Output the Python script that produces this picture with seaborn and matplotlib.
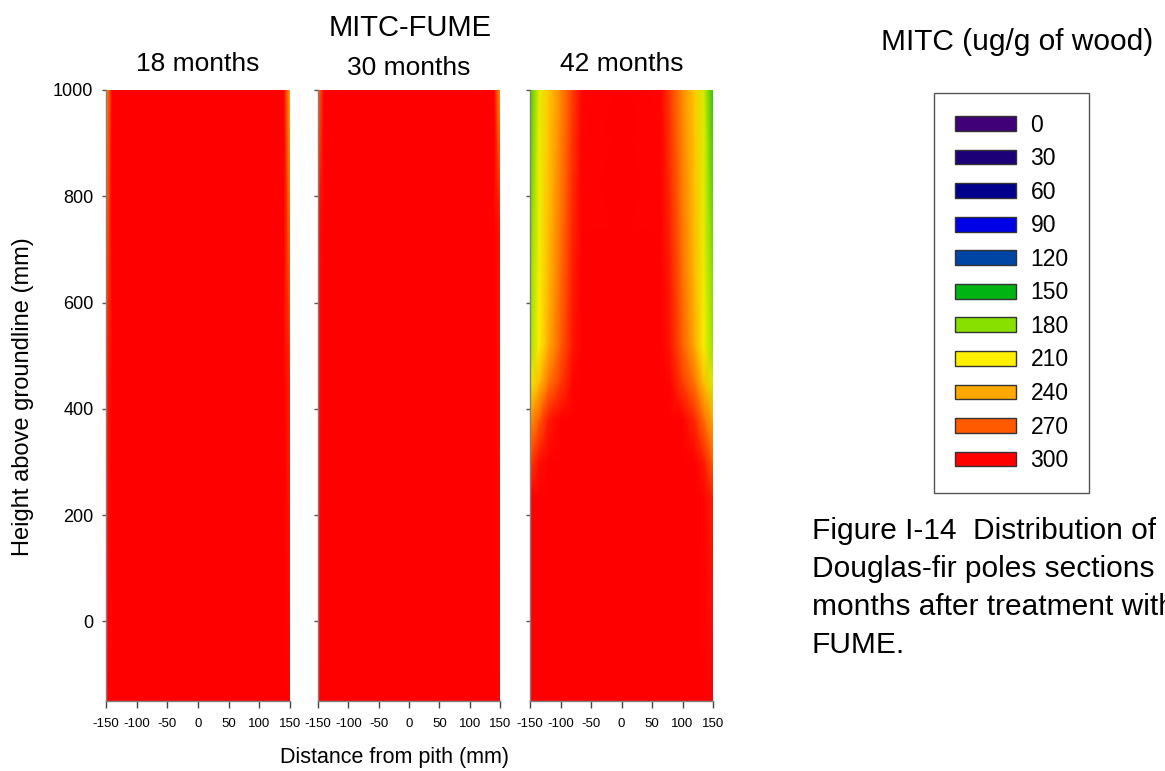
import numpy as np
import matplotlib
matplotlib.use("Agg")
import matplotlib.pyplot as plt
from matplotlib.colors import LinearSegmentedColormap, Normalize
from matplotlib.patches import Patch
import seaborn as sns

# legend levels / colours (ug/g of wood)
levels = [0, 30, 60, 90, 120, 150, 180, 210, 240, 270, 300]
level_colors = ["#400078", "#1c0078", "#00008c", "#0000e6", "#0044a4", "#00b414",
                "#88e000", "#fff000", "#ffa800", "#ff5a00", "#ff0000"]

# 18 months
dist_18 = [-150, -140, 0, 140, 150]
height_18 = [-150, 450, 1000]
mitc_18 = [
    [300, 300, 300, 300, 300],
    [288, 300, 300, 300, 288],
    [242, 300, 300, 300, 235],
]

# 30 months
dist_30 = [-150, -140, 0, 140, 150]
height_30 = [-150, 750, 1000]
mitc_30 = [
    [300, 300, 300, 300, 300],
    [295, 300, 300, 300, 292],
    [262, 300, 300, 300, 245],
]

# 42 months
dist_42 = [-150, -135, -120, -100, -80, -65, 0, 65, 80, 100, 120, 135, 150]
height_42 = [-150, 230, 300, 380, 450, 520, 650, 1000]
mitc_42 = [
    [300, 300, 300, 300, 300, 300, 300, 300, 300, 300, 300, 300, 300],
    [300, 300, 300, 300, 300, 300, 300, 300, 300, 300, 300, 298, 290],
    [278, 295, 300, 300, 300, 300, 300, 300, 300, 300, 300, 290, 268],
    [245, 268, 290, 300, 300, 300, 300, 300, 300, 300, 285, 262, 240],
    [205, 232, 258, 280, 298, 300, 300, 300, 298, 280, 258, 230, 200],
    [185, 210, 238, 268, 292, 300, 300, 300, 292, 268, 238, 208, 182],
    [180, 208, 233, 262, 290, 300, 300, 300, 290, 262, 233, 206, 178],
    [165, 203, 226, 250, 280, 298, 300, 298, 280, 250, 226, 200, 160],
]

panel_titles = ["18 months", "30 months", "42 months"]
x_ticks = [-150, -100, -50, 0, 50, 100, 150]
y_ticks = [0, 200, 400, 600, 800, 1000]

caption_lines = ["Figure I-14  Distribution of MITC in",
                 "Douglas-fir poles sections 18, 30 and 42",
                 "months after treatment with MITC-",
                 "FUME."]

sns.set_theme(style="ticks")
plt.rcParams["font.family"] = ["Liberation Sans", "DejaVu Sans"]
plt.rcParams["axes.unicode_minus"] = False
plt.rcParams["text.color"] = "black"
plt.rcParams["xtick.labelcolor"] = "black"
plt.rcParams["ytick.labelcolor"] = "black"

cmap = LinearSegmentedColormap.from_list(
    "mitc", [(v / 300, c) for v, c in zip(levels, level_colors)])
norm = Normalize(vmin=0, vmax=300)

W, H = 1165, 771
fig = plt.figure(figsize=(W / 100, H / 100), dpi=100)

panels = [(dist_18, height_18, mitc_18), (dist_30, height_30, mitc_30), (dist_42, height_42, mitc_42)]
lefts = [106, 318, 530]
rights = [290, 500, 713]
top, bottom = 90, 701
title_x = [198, 409, 622]
title_y = [64, 68, 64]

for i, (d, h, z) in enumerate(panels):
    ax = fig.add_axes([lefts[i] / W, 1 - bottom / H, (rights[i] - lefts[i]) / W, (bottom - top) / H])
    X, Y = np.meshgrid(d, h)
    ax.pcolormesh(X, Y, np.array(z, dtype=float), cmap=cmap, norm=norm, shading="gouraud")
    ax.set_xlim(-150, 150)
    ax.set_ylim(-150, 1000)
    ax.set_xticks(x_ticks)
    ax.set_yticks(y_ticks)
    ax.tick_params(axis="x", length=5, width=1, color="#444444", pad=7, labelsize=9.5)
    ax.tick_params(axis="y", length=3, width=1, color="#555555", pad=6, labelsize=13)
    if i > 0:
        ax.set_yticklabels([])
    sns.despine(ax=ax, top=True, right=True)
    for s in ["left", "bottom"]:
        ax.spines[s].set_color("#808080")
        ax.spines[s].set_linewidth(1)
    ax.grid(False)
    fig.text(title_x[i] / W, 1 - title_y[i] / H, panel_titles[i], ha="center", va="center", fontsize=19)

fig.text(410 / W, 1 - 28 / H, "MITC-FUME", ha="center", va="center", fontsize=21)
fig.text(23 / W, 1 - 397 / H, "Height above groundline (mm)", rotation=90,
         ha="center", va="center", fontsize=17)
fig.text(394 / W, 1 - 758 / H, "Distance from pith (mm)", ha="center", va="center", fontsize=15.5)

# legend
fig.text(1017 / W, 1 - 42 / H, "MITC (ug/g of wood)", ha="center", va="center", fontsize=21.5)
handles = [Patch(facecolor=c, edgecolor="#333333", linewidth=1) for c in level_colors]
leg = fig.legend(handles, [str(v) for v in levels], loc="upper left",
                 bbox_to_anchor=(934 / W, 1 - 93 / H), bbox_transform=fig.transFigure,
                 fontsize=16.5, handlelength=2.66, handleheight=0.61, handletextpad=0.65,
                 labelspacing=0.46, borderpad=0.9, borderaxespad=0,
                 fancybox=False, framealpha=1, edgecolor="#555555")
leg.get_frame().set_linewidth(1)

# caption (runs off the right edge, as in the original page)
for k, line in enumerate(caption_lines):
    fig.text(812 / W, 1 - (539 + 38 * k) / H, line, ha="left", va="baseline", fontsize=21.5)

fig.savefig("out.png", dpi=100)
